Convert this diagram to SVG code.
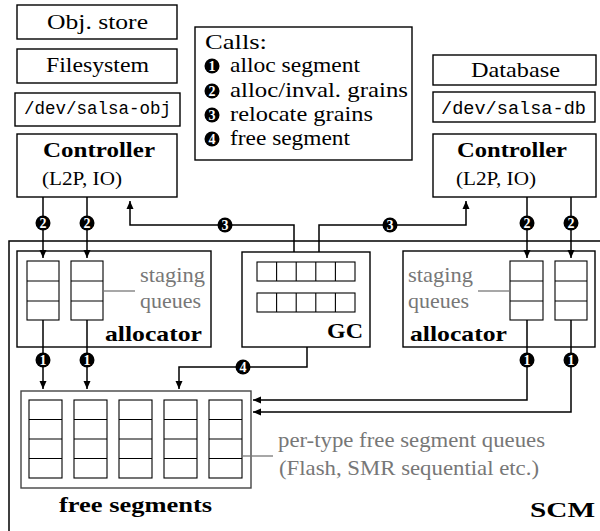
<svg xmlns="http://www.w3.org/2000/svg" width="600" height="531" viewBox="0 0 600 531">
<defs>
<style>
.box{fill:#fff;stroke:#000;stroke-width:1.4}
.cell{fill:#fff;stroke:#000;stroke-width:1.1}
.ln{fill:none;stroke:#000;stroke-width:1.5}
.gl{fill:none;stroke:#777;stroke-width:1.3}
.t{font-family:'Liberation Serif','DejaVu Serif','Times New Roman',serif;font-size:22px;fill:#000}
.b{font-family:'Liberation Serif','DejaVu Serif','Times New Roman',serif;font-size:22px;font-weight:bold;fill:#000}
.s{font-family:'Liberation Serif','DejaVu Serif','Times New Roman',serif;font-size:18.5px;fill:#000}
.g{font-family:'Liberation Serif','DejaVu Serif','Times New Roman',serif;font-size:21px;fill:#777}
.m{font-family:'Liberation Mono','DejaVu Sans Mono','Courier New',monospace;font-size:18px;fill:#000}
.dot{fill:#000}
.n{font-family:'Liberation Serif','DejaVu Serif',serif;font-size:14px;font-weight:bold;fill:#fff;text-anchor:middle}
</style>
<marker id="ah" markerUnits="userSpaceOnUse" markerWidth="10" markerHeight="10" refX="9" refY="5" orient="auto">
<path d="M1,1.5 L9,5 L1,8.5 z" fill="#000"/>
</marker>
</defs>
<rect width="600" height="531" fill="#fff"/>

<g id="scm">
<path class="ln" d="M9,531 V241 H600"/>
<text class="b" x="530" y="517" textLength="65" lengthAdjust="spacingAndGlyphs">SCM</text>
</g>

<g id="objstore">
<rect class="box" x="17" y="5" width="160" height="34"/>
<text class="t" x="47" y="29" textLength="101" lengthAdjust="spacingAndGlyphs">Obj.  store</text>
</g>
<g id="filesystem">
<rect class="box" x="17" y="49" width="160" height="34"/>
<text class="t" x="46" y="72" textLength="103" lengthAdjust="spacingAndGlyphs">Filesystem</text>
</g>
<g id="devobj">
<rect class="box" x="15" y="93" width="165" height="33"/>
<text class="m" x="24" y="114" textLength="147" lengthAdjust="spacingAndGlyphs">/dev/salsa-obj</text>
</g>
<g id="ctrl-left">
<rect class="box" x="17" y="134" width="160" height="63"/>
<text class="b" x="43" y="157" textLength="112" lengthAdjust="spacingAndGlyphs">Controller</text>
<text class="s" x="42" y="185" textLength="80" lengthAdjust="spacingAndGlyphs">(L2P, IO)</text>
</g>

<g id="calls">
<rect class="box" x="195" y="27" width="217" height="133"/>
<text class="t" x="205" y="49" textLength="62" lengthAdjust="spacingAndGlyphs">Calls:</text>
<circle class="dot" cx="212" cy="66" r="7.5"/><text class="n" x="212" y="71">1</text>
<text class="t" x="230" y="72" textLength="130" lengthAdjust="spacingAndGlyphs">alloc segment</text>
<circle class="dot" cx="212" cy="91" r="7.5"/><text class="n" x="212" y="96">2</text>
<text class="t" x="230" y="97" textLength="178" lengthAdjust="spacingAndGlyphs">alloc/inval.  grains</text>
<circle class="dot" cx="212" cy="115" r="7.5"/><text class="n" x="212" y="120">3</text>
<text class="t" x="230" y="121" textLength="143" lengthAdjust="spacingAndGlyphs">relocate grains</text>
<circle class="dot" cx="212" cy="139" r="7.5"/><text class="n" x="212" y="144">4</text>
<text class="t" x="230" y="145" textLength="120" lengthAdjust="spacingAndGlyphs">free segment</text>
</g>

<g id="database">
<rect class="box" x="433" y="55" width="163" height="30"/>
<text class="t" x="471" y="77" textLength="89" lengthAdjust="spacingAndGlyphs">Database</text>
</g>
<g id="devdb">
<rect class="box" x="433" y="92" width="162" height="30"/>
<text class="m" x="441" y="114" textLength="145" lengthAdjust="spacingAndGlyphs">/dev/salsa-db</text>
</g>
<g id="ctrl-right">
<rect class="box" x="433" y="134" width="163" height="63"/>
<text class="b" x="457" y="157" textLength="110" lengthAdjust="spacingAndGlyphs">Controller</text>
<text class="s" x="456" y="185" textLength="80" lengthAdjust="spacingAndGlyphs">(L2P, IO)</text>
</g>

<g id="alloc-left">
<rect class="box" x="17" y="251" width="194" height="96"/>
<rect class="cell" x="27" y="261" width="32" height="59"/>
<path class="cell" d="M27,281 H59 M27,301 H59"/>
<rect class="cell" x="71" y="261" width="32" height="59"/>
<path class="cell" d="M71,281 H103 M71,301 H103"/>
<path class="gl" d="M103,291 H135"/>
<text class="g" x="140" y="282" textLength="65" lengthAdjust="spacingAndGlyphs">staging</text>
<text class="g" x="140" y="308" textLength="61" lengthAdjust="spacingAndGlyphs">queues</text>
<text class="b" x="105" y="341" textLength="97" lengthAdjust="spacingAndGlyphs">allocator</text>
</g>

<g id="gc">
<rect class="box" x="242" y="252" width="128" height="95"/>
<rect class="cell" x="257" y="262" width="98" height="19"/>
<path class="cell" d="M276.6,262 V281 M296.2,262 V281 M315.8,262 V281 M335.4,262 V281"/>
<rect class="cell" x="257" y="293" width="98" height="19"/>
<path class="cell" d="M276.6,293 V312 M296.2,293 V312 M315.8,293 V312 M335.4,293 V312"/>
<text class="b" x="327" y="338" textLength="36" lengthAdjust="spacingAndGlyphs">GC</text>
</g>

<g id="alloc-right">
<rect class="box" x="403" y="251" width="192" height="96"/>
<rect class="cell" x="510" y="261" width="33" height="59"/>
<path class="cell" d="M510,281 H543 M510,301 H543"/>
<rect class="cell" x="555" y="261" width="32" height="59"/>
<path class="cell" d="M555,281 H587 M555,301 H587"/>
<path class="gl" d="M478,291 H510"/>
<text class="g" x="408" y="282" textLength="65" lengthAdjust="spacingAndGlyphs">staging</text>
<text class="g" x="408" y="308" textLength="61" lengthAdjust="spacingAndGlyphs">queues</text>
<text class="b" x="410" y="341" textLength="97" lengthAdjust="spacingAndGlyphs">allocator</text>
</g>

<g id="free-segments">
<rect class="box" x="21" y="391" width="230" height="97" style="stroke:#444"/>
<rect class="cell" x="29" y="400" width="33" height="78"/>
<path class="cell" d="M29,419.5 H62 M29,439 H62 M29,458.5 H62"/>
<rect class="cell" x="74" y="400" width="33" height="78"/>
<path class="cell" d="M74,419.5 H107 M74,439 H107 M74,458.5 H107"/>
<rect class="cell" x="119" y="400" width="33" height="78"/>
<path class="cell" d="M119,419.5 H152 M119,439 H152 M119,458.5 H152"/>
<rect class="cell" x="164" y="400" width="33" height="78"/>
<path class="cell" d="M164,419.5 H197 M164,439 H197 M164,458.5 H197"/>
<rect class="cell" x="209" y="400" width="33" height="78"/>
<path class="cell" d="M209,419.5 H242 M209,439 H242 M209,458.5 H242"/>
<path class="gl" d="M242,456 H273"/>
<text class="g" x="278" y="447" textLength="267" lengthAdjust="spacingAndGlyphs">per-type free segment queues</text>
<text class="g" x="279" y="475" textLength="260" lengthAdjust="spacingAndGlyphs">(Flash, SMR sequential etc.)</text>
<text class="b" x="59" y="512" textLength="153" lengthAdjust="spacingAndGlyphs">free segments</text>
</g>

<g id="connectors">
<path class="ln" d="M43,197 V258" marker-end="url(#ah)"/>
<path class="ln" d="M87,197 V258" marker-end="url(#ah)"/>
<path class="ln" d="M527,197 V258" marker-end="url(#ah)"/>
<path class="ln" d="M571,197 V258" marker-end="url(#ah)"/>
<path class="ln" d="M294,252 V225 H130 V201" marker-end="url(#ah)"/>
<path class="ln" d="M319,252 V225 H466 V201" marker-end="url(#ah)"/>
<path class="ln" d="M43,320 V389" marker-end="url(#ah)"/>
<path class="ln" d="M87,320 V389" marker-end="url(#ah)"/>
<path class="ln" d="M307,347 V367 H179 V389" marker-end="url(#ah)"/>
<path class="ln" d="M527,320 V400 H253" marker-end="url(#ah)"/>
<path class="ln" d="M571,320 V412 H253" marker-end="url(#ah)"/>
<circle class="dot" cx="43" cy="223" r="7.5"/><text class="n" x="43" y="228">2</text>
<circle class="dot" cx="87" cy="223" r="7.5"/><text class="n" x="87" y="228">2</text>
<circle class="dot" cx="527" cy="223" r="7.5"/><text class="n" x="527" y="228">2</text>
<circle class="dot" cx="571" cy="223" r="7.5"/><text class="n" x="571" y="228">2</text>
<circle class="dot" cx="225" cy="225" r="7.5"/><text class="n" x="225" y="230">3</text>
<circle class="dot" cx="390" cy="225" r="7.5"/><text class="n" x="390" y="230">3</text>
<circle class="dot" cx="43" cy="360" r="7.5"/><text class="n" x="43" y="365">1</text>
<circle class="dot" cx="87" cy="360" r="7.5"/><text class="n" x="87" y="365">1</text>
<circle class="dot" cx="527" cy="360" r="7.5"/><text class="n" x="527" y="365">1</text>
<circle class="dot" cx="571" cy="360" r="7.5"/><text class="n" x="571" y="365">1</text>
<circle class="dot" cx="243" cy="367" r="7.5"/><text class="n" x="243" y="372">4</text>
</g>
</svg>
